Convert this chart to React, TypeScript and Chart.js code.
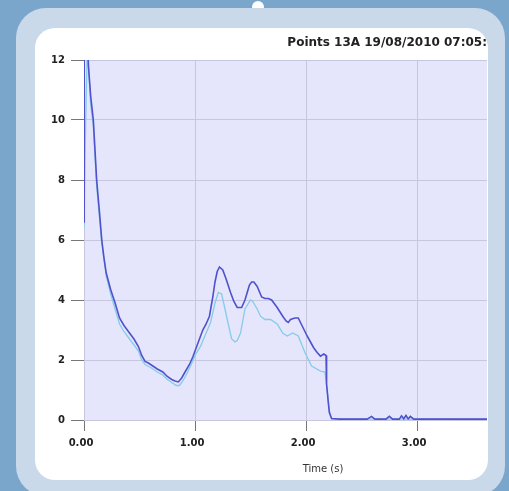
import React, { useEffect, useRef } from "react";
import { Chart, registerables } from "chart.js";

Chart.register(...registerables);

const chartTitle = "Points 13A 19/08/2010 07:05:";
const xAxisTitle = "Time (s)";

const darkTime = [0, 0.002, 0.025, 0.04, 0.06, 0.084, 0.114, 0.14, 0.16, 0.18, 0.2, 0.24, 0.28, 0.32, 0.36, 0.41, 0.45, 0.49, 0.52, 0.55, 0.58, 0.62, 0.66, 0.71, 0.75, 0.79, 0.82, 0.85, 0.88, 0.91, 0.95, 0.98, 1.02, 1.07, 1.1, 1.13, 1.16, 1.18, 1.2, 1.22, 1.25, 1.28, 1.32, 1.35, 1.38, 1.42, 1.45, 1.47, 1.49, 1.51, 1.53, 1.56, 1.6, 1.63, 1.66, 1.69, 1.72, 1.74, 1.79, 1.82, 1.84, 1.86, 1.9, 1.93, 1.97, 2.01, 2.04, 2.07, 2.1, 2.13, 2.16, 2.18, 2.185, 2.2, 2.21, 2.23, 2.3, 2.55, 2.59, 2.62, 2.72, 2.75, 2.78, 2.84, 2.86, 2.88, 2.9, 2.92, 2.94, 2.97, 3.63];
const darkValue = [6.6, 13, 13.5, 11.8, 10.8, 10.0, 8.0, 6.9, 6.0, 5.4, 4.9, 4.35, 3.9, 3.4, 3.15, 2.9, 2.7, 2.45, 2.15, 1.95, 1.9, 1.8, 1.7, 1.6, 1.45, 1.35, 1.3, 1.27, 1.4, 1.6, 1.85, 2.1, 2.5, 3.0, 3.2, 3.46, 4.1, 4.6, 4.95, 5.1, 5.0, 4.7, 4.25, 3.95, 3.75, 3.75, 4.0, 4.25, 4.5, 4.6, 4.6, 4.45, 4.1, 4.05, 4.05, 4.0, 3.85, 3.75, 3.46, 3.3, 3.25, 3.35, 3.4, 3.4, 3.1, 2.8, 2.6, 2.4, 2.25, 2.13, 2.2, 2.15, 1.2, 0.6, 0.25, 0.05, 0.03, 0.03, 0.12, 0.03, 0.03, 0.12, 0.03, 0.03, 0.14, 0.04, 0.15, 0.04, 0.12, 0.03, 0.03];

const lightTime = [0, 0.01, 0.03, 0.06, 0.084, 0.114, 0.14, 0.16, 0.2, 0.24, 0.28, 0.32, 0.36, 0.41, 0.45, 0.49, 0.52, 0.55, 0.6, 0.66, 0.71, 0.75, 0.79, 0.83, 0.86, 0.89, 0.92, 0.96, 1.0, 1.05, 1.1, 1.14, 1.18, 1.21, 1.24, 1.27, 1.29, 1.33, 1.36, 1.38, 1.41, 1.45, 1.5, 1.52, 1.56, 1.59, 1.63, 1.68, 1.74, 1.79, 1.83, 1.88, 1.93, 1.99, 2.05, 2.13, 2.17, 2.19, 2.21, 2.23, 3.63];
const lightValue = [6.4, 9, 12.5, 10.5, 9.8, 7.8, 6.7, 5.9, 4.8, 4.2, 3.7, 3.2, 2.95, 2.7, 2.5, 2.3, 2.0, 1.85, 1.75, 1.6, 1.5, 1.35, 1.25, 1.15, 1.15, 1.3, 1.5, 1.8, 2.15, 2.46, 2.9, 3.25, 3.9, 4.25, 4.2, 3.7, 3.35, 2.7, 2.6, 2.65, 2.9, 3.7, 4.0, 3.95, 3.7, 3.46, 3.35, 3.35, 3.2, 2.9, 2.8, 2.9, 2.8, 2.25, 1.8, 1.63, 1.6, 1.0, 0.3, 0.04, 0.02];

const xMin = 0;
const xMax = 3.63;
const xStep = 1;
const yMin = 0;
const yMax = 12;
const yStep = 2;

const plotBg = {
  id: "plotBg",
  beforeDraw(chart: any) {
    const { ctx, chartArea } = chart;
    if (!chartArea) return;
    ctx.save();
    ctx.fillStyle = "#e5e5fc";
    ctx.fillRect(chartArea.left, chartArea.top, chartArea.right - chartArea.left, chartArea.bottom - chartArea.top);
    ctx.restore();
  },
};

export default function App() {
  const ref = useRef<HTMLCanvasElement | null>(null);

  useEffect(() => {
    if (!ref.current) return;
    const toPts = (t: number[], v: number[]) => t.map((x, i) => ({ x, y: v[i] }));
    const tickFont = { family: "DejaVu Sans", size: 10, weight: "bold" as const };
    const chart = new Chart(ref.current, {
      type: "line",
      data: {
        datasets: [
          {
            label: "dark",
            data: toPts(darkTime, darkValue),
            borderColor: "#4f52cc",
            borderWidth: 1.6,
            pointRadius: 0,
            tension: 0,
          },
          {
            label: "light",
            data: toPts(lightTime, lightValue),
            borderColor: "#86cce6",
            borderWidth: 1.3,
            pointRadius: 0,
            tension: 0,
          },
        ],
      },
      options: {
        animation: false,
        responsive: false,
        devicePixelRatio: 1,
        layout: { padding: { top: 0, right: 1, left: 0, bottom: 0 } },
        plugins: {
          legend: { display: false },
          tooltip: { enabled: false },
          title: {
            display: true,
            text: chartTitle,
            align: "end",
            color: "#222",
            font: { family: "DejaVu Sans", size: 12, weight: "bold" },
            padding: { top: 8, bottom: 9.6 },
          },
        },
        scales: {
          x: {
            type: "linear",
            min: xMin,
            max: xMax,
            border: { display: false },
            grid: { color: "#c6c6de", tickColor: "#777", tickLength: 11, lineWidth: 1 },
            ticks: {
              stepSize: xStep,
              includeBounds: false,
              autoSkip: false,
              maxRotation: 0,
              padding: 6,
              labelOffset: -3,
              color: "#222",
              font: tickFont,
              callback: (v: any) => Number(v).toFixed(2),
            },
            afterFit: (s: any) => {
              s.height = 60;
            },
          },
          y: {
            type: "linear",
            min: yMin,
            max: yMax,
            border: { display: false },
            grid: { color: "#c6c6de", tickColor: "#777", tickLength: 13, lineWidth: 1 },
            ticks: {
              stepSize: yStep,
              padding: 6,
              color: "#222",
              font: tickFont,
            },
            afterFit: (s: any) => {
              s.width = 49;
            },
          },
        },
      },
      plugins: [plotBg],
    } as any);
    return () => chart.destroy();
  }, []);

  return (
    <div style={{ position: "absolute", left: 0, top: 0, width: 509, height: 491, overflow: "hidden", background: "#7aa6cc" }}>
      <div style={{ position: "absolute", left: 252, top: 1, width: 12, height: 12, borderRadius: "50%", background: "#ffffff" }} />
      <div style={{ position: "absolute", left: 16, top: 8, width: 489, height: 488, borderRadius: 30, background: "#c9d9ea" }} />
      <div style={{ position: "absolute", left: 35, top: 28, width: 453, height: 452, borderRadius: 20, background: "#ffffff", overflow: "hidden" }}>
        <canvas ref={ref} width={453} height={452} style={{ display: "block" }} />
      </div>
      <div style={{ position: "absolute", left: 300, top: 463, width: 46, textAlign: "center", fontFamily: "DejaVu Sans", fontSize: 10, color: "#333", whiteSpace: "nowrap" }}>
        {xAxisTitle}
      </div>
    </div>
  );
}
